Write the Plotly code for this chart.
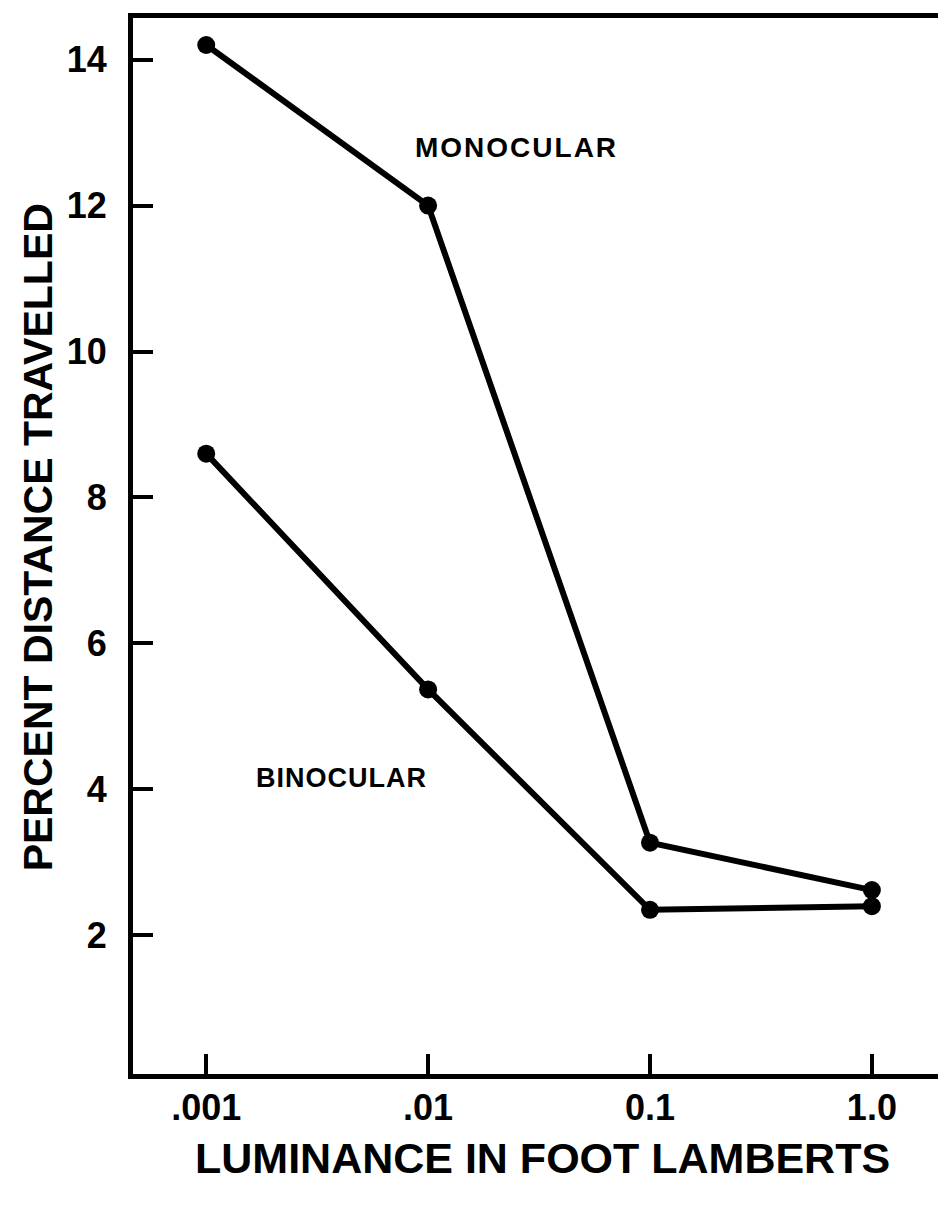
import plotly.graph_objects as go

# Data
luminance = [0.001, 0.01, 0.1, 1.0]
tick_labels_x = [".001", ".01", "0.1", "1.0"]
monocular = [14.2, 12.0, 3.27, 2.62]
binocular = [8.6, 5.37, 2.35, 2.40]
y_ticks = [2, 4, 6, 8, 10, 12, 14]

fig = go.Figure()
for name, vals in [("MONOCULAR", monocular), ("BINOCULAR", binocular)]:
    fig.add_trace(go.Scatter(
        x=luminance, y=vals, mode="lines+markers", name=name,
        line=dict(color="black", width=6),
        marker=dict(color="black", size=18),
        showlegend=False,
    ))

tickfont = dict(family="Liberation Sans", size=36, color="black", weight="bold")

fig.update_layout(
    width=946, height=1209,
    margin=dict(l=125, r=14, t=5, b=143),
    paper_bgcolor="white", plot_bgcolor="white",
    xaxis=dict(
        type="log", range=[-3.33, 0.307],
        tickvals=luminance, ticktext=tick_labels_x,
        ticks="inside", ticklen=20, tickwidth=4, tickcolor="black",
        showline=True, linewidth=5, linecolor="black", mirror=True,
        showgrid=False, zeroline=False,
        tickfont=tickfont, ticklabelstandoff=-2,
    ),
    yaxis=dict(
        range=[0.1, 14.57],
        tickvals=y_ticks, ticktext=[str(v) for v in y_ticks],
        ticks="inside", ticklen=20, tickwidth=4, tickcolor="black",
        showline=True, linewidth=5, linecolor="black", mirror=True,
        showgrid=False, zeroline=False,
        tickfont=tickfont, ticklabelstandoff=14,
    ),
    annotations=[
        dict(text='<span style="letter-spacing:2px">MONOCULAR</span>',
             x=-1.60, y=12.8, xref="x", yref="y", showarrow=False,
             font=dict(family="Liberation Sans", size=28, color="black", weight="bold")),
        dict(text='<span style="letter-spacing:1px">BINOCULAR</span>',
             x=-2.39, y=4.16, xref="x", yref="y", showarrow=False,
             font=dict(family="Liberation Sans", size=27, color="black", weight="bold")),
        dict(text="LUMINANCE IN FOOT LAMBERTS",
             x=0.508, y=-0.080, xref="paper", yref="paper", showarrow=False,
             xanchor="center", yanchor="middle",
             font=dict(family="Liberation Sans", size=43, color="black", weight="bold")),
        dict(text="PERCENT DISTANCE TRAVELLED",
             x=-0.118, y=0.508, xref="paper", yref="paper", showarrow=False,
             xanchor="center", yanchor="middle", textangle=-90,
             font=dict(family="Liberation Sans", size=41, color="black", weight="bold")),
    ],
)

fig.write_html("out.html")
